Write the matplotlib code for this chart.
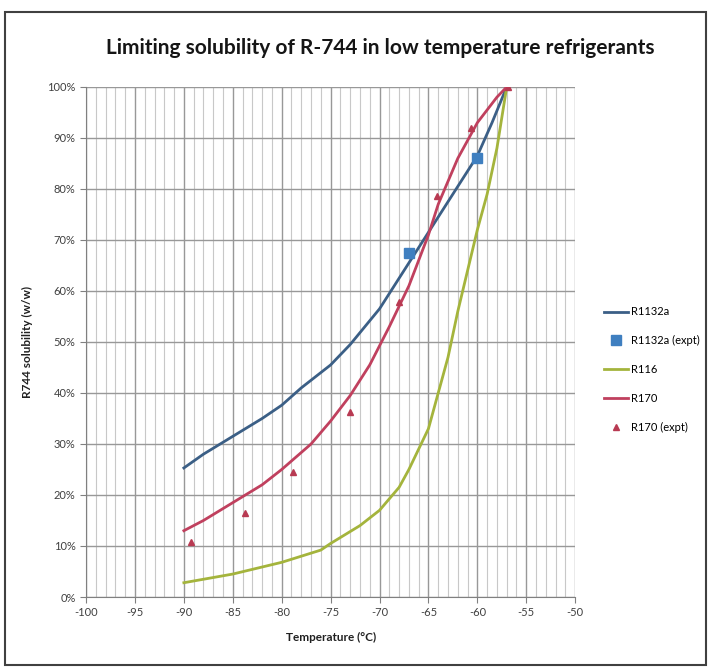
import matplotlib.pyplot as plt
import numpy as np
from matplotlib.patches import Rectangle
from matplotlib.ticker import MultipleLocator, PercentFormatter

# R1132a model curve
t_1132a = [-90, -88, -85, -82, -80, -78, -75, -73, -70, -68, -66, -64, -62, -60, -58.5, -57]
s_1132a = [25.3, 28, 31.5, 35, 37.6, 41, 45.5, 49.5, 56.5, 62.5, 68.5, 74.5, 80.5, 86.5, 93, 100]

# R1132a experimental points
t_1132a_x = [-67, -60]
s_1132a_x = [67.4, 86]

# R116 model curve
t_116 = [-90, -85, -80, -76, -75, -72, -70, -68, -67, -66, -65, -64, -63, -62, -61, -60, -59, -58, -57]
s_116 = [2.8, 4.5, 6.8, 9.2, 10.5, 14, 17, 21.5, 25, 29, 33, 40, 47, 56, 64, 72, 79, 88, 100]

# R170 model curve
t_170 = [-90, -88, -85, -82, -80, -77, -75, -73, -71, -69, -67, -65, -64, -62, -60, -58, -57]
s_170 = [13, 15, 18.5, 22, 25, 30, 34.5, 39.5, 45.5, 53, 61, 71, 77, 86, 93, 98, 100]

# R170 experimental points
t_170_x = [-89.3, -83.8, -78.8, -73, -68, -64.1, -60.6, -56.9]
s_170_x = [10.8, 16.4, 24.6, 36.3, 57.8, 78.6, 92, 100]

plt.rcParams['font.family'] = ['Lato', 'DejaVu Sans']
plt.rcParams['axes.unicode_minus'] = False

fig = plt.figure(figsize=(7.11, 6.72), dpi=100)
ax = fig.add_axes([0.121, 0.1116, 0.688, 0.759])

ax.plot(t_1132a, s_1132a, color='#3b5f86', lw=2, label='R1132a', zorder=3)
ax.plot(t_1132a_x, s_1132a_x, 's', color='#3f7fc0', ms=7, label='R1132a (expt)', zorder=4)
ax.plot(t_116, s_116, color='#a4b43c', lw=2, label='R116', zorder=3)
ax.plot(t_170, s_170, color='#c0405e', lw=2, label='R170', zorder=3)
ax.plot(t_170_x, s_170_x, '^', color='#b83a52', ms=5, label='R170 (expt)', zorder=4)

ax.set_xlim(-100, -50)
ax.set_ylim(0, 100)
ax.xaxis.set_major_locator(MultipleLocator(5))
ax.xaxis.set_minor_locator(MultipleLocator(1))
ax.yaxis.set_major_locator(MultipleLocator(10))
ax.yaxis.set_major_formatter(PercentFormatter(decimals=0))

ax.grid(which='major', axis='x', color='#989898', lw=1)
ax.grid(which='minor', axis='x', color='#c8c8c8', lw=0.8)
ax.grid(which='major', axis='y', color='#989898', lw=1)
ax.set_axisbelow(True)

for side in ['top', 'right']:
    ax.spines[side].set_visible(False)
for side in ['left', 'bottom']:
    ax.spines[side].set_color('#808080')
ax.tick_params(which='major', length=4, color='#808080', labelsize=8, labelcolor='#404040')
ax.tick_params(which='minor', length=0)

ax.set_xlabel('Temperature (°C)', fontsize=8.5, fontweight='bold', labelpad=10, color='#202020')
ax.set_ylabel('R744 solubility (w/w)', fontsize=8.5, fontweight='bold', labelpad=10, color='#202020')

fig.suptitle('Limiting solubility of R-744 in low temperature refrigerants',
             x=0.535, y=0.943, fontsize=15, fontweight='bold', color='#151515')

fig.legend(loc='center left', bbox_to_anchor=(0.835, 0.45), frameon=False,
           fontsize=8, handlelength=2.2, labelspacing=1.6, handletextpad=0.3)

fig.patches.append(Rectangle((0.007, 0.01), 0.986, 0.972, transform=fig.transFigure,
                             fill=False, edgecolor='#404040', lw=1.5))

fig.savefig('out.png', dpi=100)
plt.close(fig)
